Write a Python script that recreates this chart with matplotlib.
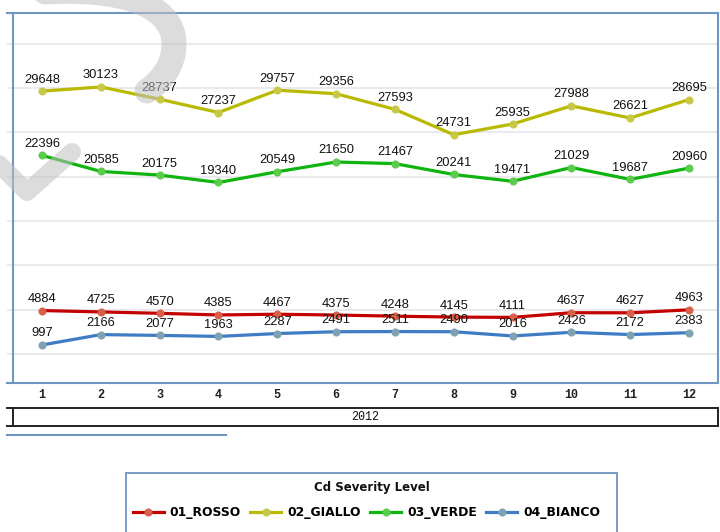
import matplotlib
matplotlib.use("Agg")
import matplotlib.pyplot as plt
from matplotlib.path import Path
from matplotlib.patches import PathPatch, Rectangle
from matplotlib.lines import Line2D

months = list(range(1, 13))
year_label = "2012"
legend_title = "Cd Severity Level"
series_names = ["01_ROSSO", "02_GIALLO", "03_VERDE", "04_BIANCO"]
rosso = [4884, 4725, 4570, 4385, 4467, 4375, 4248, 4145, 4111, 4637, 4627, 4963]
giallo = [29648, 30123, 28737, 27237, 29757, 29356, 27593, 24731, 25935, 27988, 26621, 28695]
verde = [22396, 20585, 20175, 19340, 20549, 21650, 21467, 20241, 19471, 21029, 19687, 20960]
bianco = [997, 2166, 2077, 1963, 2287, 2491, 2511, 2490, 2016, 2426, 2172, 2383]

line_colors = ["#c40000", "#b9b900", "#0fb40f", "#3f7cc4"]
marker_colors = ["#d8604a", "#c8c848", "#5ccc4c", "#7fa2b2"]

W, H = 720, 532
fig = plt.figure(figsize=(W / 100, H / 100), dpi=100)
fig.patch.set_facecolor("white")

ax_l, ax_r, ax_t, ax_b = 12.6, 718.4, 13.0, 382.5
ax = fig.add_axes([ax_l / W, 1 - ax_b / H, (ax_r - ax_l) / W, (ax_b - ax_t) / H])
ax.set_xlim(0.5, 12.5)
ax.set_ylim(-3240, 38470)

spine_col = "#6f95c2"
grid_col = "#e9e9ef"
for s in ["top", "bottom"]:
    ax.spines[s].set_visible(False)
for s in ["left", "right"]:
    ax.spines[s].set_color(spine_col)
    ax.spines[s].set_linewidth(1.5)
ext = -6 / (ax_r - ax_l)
for yy in (0, 1):
    ax.add_line(Line2D([ext, 1], [yy, yy], transform=ax.transAxes, color=spine_col,
                       lw=1.5, clip_on=False, zorder=5))

ax.set_yticks(range(0, 40000, 5000))
ax.yaxis.grid(True, color=grid_col, lw=1.5)
ax.tick_params(axis="y", length=4.3, width=1.5, color=grid_col, labelleft=False)
ax.set_axisbelow(True)
ax.set_xticks(months)
ax.set_xticklabels([str(m) for m in months], family="Liberation Mono", fontsize=8.5,
                   fontweight="bold", color="#222222")
ax.tick_params(axis="x", length=0, pad=5)

all_series = [rosso, giallo, verde, bianco]
handles = []
for vals, name, lc, mc in zip(all_series, series_names, line_colors, marker_colors):
    h, = ax.plot(months, vals, color=lc, lw=2.3, marker="o", ms=5.2,
                 mfc=mc, mec=mc, mew=0.6, label=name, zorder=3)
    handles.append(h)
    for m, v in zip(months, vals):
        ax.annotate(f"{v}", (m, v), xytext=(0, 8.3), textcoords="offset points",
                    ha="center", va="center", fontsize=9.3, family="Liberation Sans",
                    color="#111111", zorder=4)

# 2012 box
bx_t, bx_b = 407.5, 426.3
fig.patches.append(Rectangle((13.3 / W, 1 - bx_b / H), (718 - 13.3) / W, (bx_b - bx_t) / H,
                             transform=fig.transFigure, fill=False, ec="#222222", lw=1.4))
for yy in (bx_t, bx_b):
    fig.lines.append(Line2D([7 / W, 13.3 / W], [1 - yy / H, 1 - yy / H],
                            transform=fig.transFigure, color="#222222", lw=1.4))
fig.text(365.5 / W, 1 - 417 / H, year_label, ha="center", va="center",
         family="Liberation Mono", fontsize=8.5, color="#111111")
fig.lines.append(Line2D([7 / W, 226 / W], [1 - 434.5 / H, 1 - 434.5 / H],
                        transform=fig.transFigure, color=spine_col, lw=1.5))

# legend
fig.patches.append(Rectangle((126 / W, 1 - 560 / H), (617 - 126) / W, (560 - 472.7) / H,
                             transform=fig.transFigure, fill=False, ec=spine_col, lw=1.3))
fig.text(372 / W, 1 - 487 / H, legend_title, ha="center", va="center",
         family="DejaVu Sans", fontweight="bold", fontsize=8.5, color="#111111")
fig.legend(handles=handles, labels=series_names, loc="center",
           bbox_to_anchor=(366.5 / W, 1 - 512.5 / H), ncol=4, frameon=False,
           prop={"family": "DejaVu Sans", "weight": "bold", "size": 8.9},
           handlelength=2.5, handletextpad=0.5, columnspacing=0.75, borderpad=0)

# watermark
wm = fig.add_axes([0, 0, 1, 1], zorder=10)
wm.set_xlim(0, W)
wm.set_ylim(H, 0)
wm.axis("off")
wm.patch.set_visible(False)
wm_col = "#c0c0c0"
wa = 0.55
arc = Path([(45, -8), (110, -12), (174, 0), (174, 44), (174, 64), (163, 80), (147, 91)],
           [Path.MOVETO, Path.CURVE4, Path.CURVE4, Path.CURVE4, Path.CURVE4, Path.CURVE4, Path.CURVE4])
wm.add_patch(PathPatch(arc, fill=False, ec=wm_col, lw=18, alpha=wa, capstyle="round"))
wm.plot([72, 27, -15], [152, 192, 150], color=wm_col, lw=13, alpha=wa,
        solid_capstyle="round", solid_joinstyle="round")
wm.plot([223, 245], [-4, -30], color=wm_col, lw=16, alpha=wa, solid_capstyle="round")

fig.savefig("out.png", dpi=100)
